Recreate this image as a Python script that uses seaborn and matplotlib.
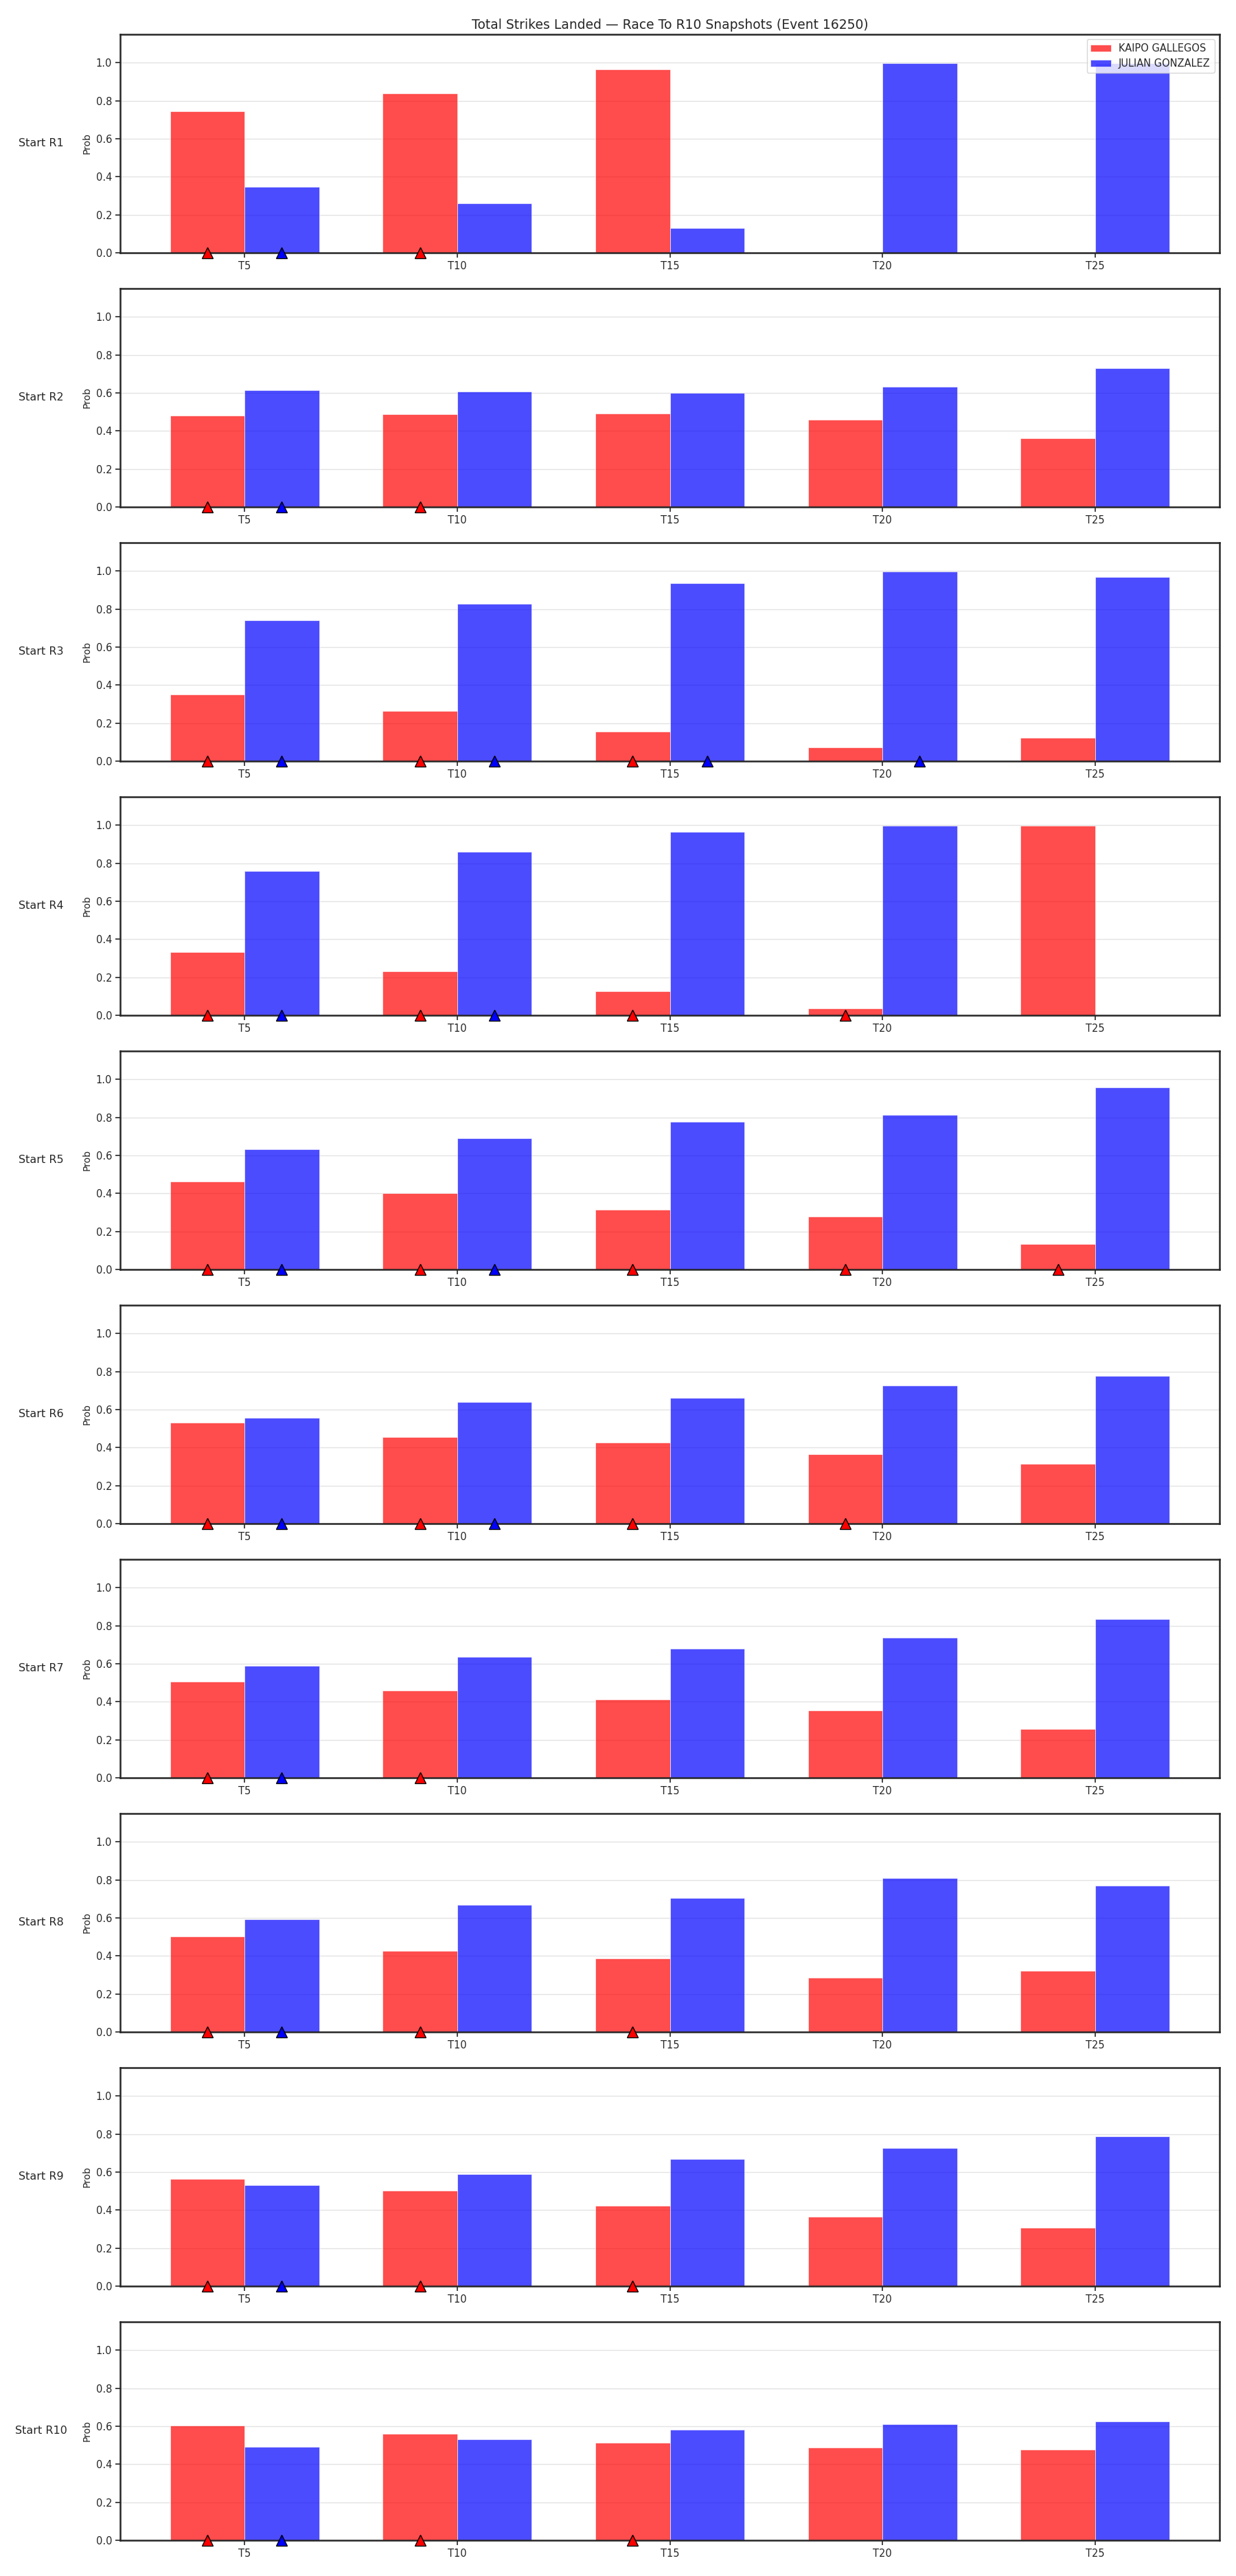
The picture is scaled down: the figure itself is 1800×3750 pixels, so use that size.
import numpy as np
import pandas as pd
import seaborn as sns
import matplotlib.pyplot as plt

snapshots = ["T5", "T10", "T15", "T20", "T25"]
fighters = ["KAIPO GALLEGOS", "JULIAN GONZALEZ"]
starts = ["Start R1", "Start R2", "Start R3", "Start R4", "Start R5",
          "Start R6", "Start R7", "Start R8", "Start R9", "Start R10"]

# probability per start round (rows) and snapshot (cols)
red_prob = [
    [0.745, 0.837, 0.966, 0.0, 0.0],
    [0.481, 0.489, 0.492, 0.460, 0.362],
    [0.352, 0.264, 0.156, 0.072, 0.123],
    [0.333, 0.232, 0.127, 0.036, 0.999],
    [0.464, 0.400, 0.315, 0.279, 0.134],
    [0.531, 0.454, 0.425, 0.364, 0.314],
    [0.506, 0.458, 0.412, 0.354, 0.256],
    [0.501, 0.425, 0.385, 0.284, 0.320],
    [0.563, 0.501, 0.422, 0.364, 0.306],
    [0.602, 0.560, 0.512, 0.487, 0.478],
]
blue_prob = [
    [0.347, 0.260, 0.130, 0.999, 0.999],
    [0.614, 0.608, 0.600, 0.633, 0.731],
    [0.741, 0.829, 0.937, 0.999, 0.970],
    [0.760, 0.861, 0.966, 0.999, 0.0],
    [0.633, 0.691, 0.778, 0.814, 0.959],
    [0.558, 0.639, 0.663, 0.725, 0.777],
    [0.588, 0.635, 0.680, 0.737, 0.834],
    [0.592, 0.668, 0.704, 0.809, 0.769],
    [0.530, 0.588, 0.668, 0.726, 0.788],
    [0.492, 0.531, 0.583, 0.609, 0.626],
]
# snapshot flags drawn as triangles on the baseline
red_flag = [
    [1, 1, 0, 0, 0],
    [1, 1, 0, 0, 0],
    [1, 1, 1, 0, 0],
    [1, 1, 1, 1, 0],
    [1, 1, 1, 1, 1],
    [1, 1, 1, 1, 0],
    [1, 1, 0, 0, 0],
    [1, 1, 1, 0, 0],
    [1, 1, 1, 0, 0],
    [1, 1, 1, 0, 0],
]
blue_flag = [
    [1, 0, 0, 0, 0],
    [1, 0, 0, 0, 0],
    [1, 1, 1, 1, 0],
    [1, 1, 0, 0, 0],
    [1, 1, 0, 0, 0],
    [1, 1, 0, 0, 0],
    [1, 0, 0, 0, 0],
    [1, 0, 0, 0, 0],
    [1, 0, 0, 0, 0],
    [1, 0, 0, 0, 0],
]

sns.set_style("ticks")
plt.rcParams.update({
    "axes.edgecolor": "#262626",
    "axes.linewidth": 1.8,
    "xtick.major.size": 5,
    "ytick.major.size": 5,
    "xtick.major.width": 1.2,
    "ytick.major.width": 1.2,
    "xtick.labelsize": 10.5,
    "ytick.labelsize": 10.5,
    "font.size": 10,
})

palette = {fighters[0]: "red", fighters[1]: "blue"}
flag_colors = ["red", "blue"]

fig, axes = plt.subplots(len(starts), 1, figsize=(18, 37.5), dpi=100)
fig.subplots_adjust(left=0.0972, right=0.9867, top=0.9867, bottom=0.0139, hspace=0.163)

for i, ax in enumerate(axes):
    df = pd.DataFrame({
        "snap": snapshots * 2,
        "prob": red_prob[i] + blue_prob[i],
        "fighter": [fighters[0]] * 5 + [fighters[1]] * 5,
    })
    sns.barplot(data=df, x="snap", y="prob", hue="fighter", order=snapshots,
                hue_order=fighters, palette=palette, alpha=0.7, width=0.7,
                saturation=1, edgecolor="white", linewidth=0.6, ax=ax,
                legend=(i == 0))
    ax.set_xlim(-0.585, 4.585)
    ax.set_ylim(0, 1.15)
    ax.set_yticks([0.0, 0.2, 0.4, 0.6, 0.8, 1.0])
    ax.yaxis.grid(True, color="#e0e0e0", linewidth=1, alpha=0.9)
    ax.set_axisbelow(True)
    ax.set_xlabel("")
    ax.set_ylabel("Prob", fontsize=10)
    ax.text(-0.072, 0.5, starts[i], transform=ax.transAxes,
            ha="center", va="center", fontsize=11.5)

    flags = [red_flag[i], blue_flag[i]]
    for k, cont in enumerate(ax.containers[:2]):
        for bar, f in zip(cont, flags[k]):
            if f:
                ax.plot(bar.get_x() + bar.get_width() / 2, 0, marker="^",
                        color=flag_colors[k], markeredgecolor="black",
                        markersize=11, clip_on=False, zorder=5)
    if i == 0:
        sns.move_legend(ax, "upper right", title=None, fontsize=10.5)
        ax.set_title("Total Strikes Landed \u2014 Race To R10 Snapshots (Event 16250)",
                     fontsize=13.5)

fig.savefig("out.png", dpi=100)
